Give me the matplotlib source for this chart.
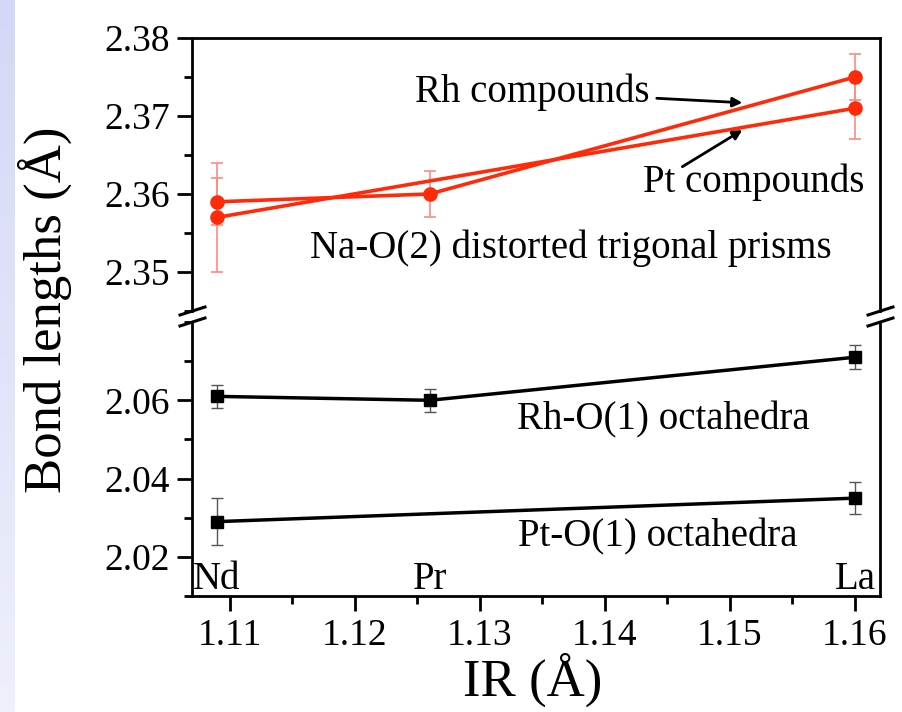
import numpy as np
import matplotlib
matplotlib.use("Agg")
import matplotlib.pyplot as plt
from matplotlib.lines import Line2D
from matplotlib.ticker import MultipleLocator, FixedLocator

plt.rcParams['font.family'] = ['Liberation Serif', 'DejaVu Serif']

# radius values (IR) and element names
ir = [1.109, 1.126, 1.16]
elements = ['Nd', 'Pr', 'La']
ir_pt = [1.109, 1.16]

# Na-O(2) bond lengths (trigonal prisms)
rh_nao = [2.359, 2.360, 2.375]
rh_nao_err = [0.003, 0.003, 0.003]
pt_nao = [2.357, 2.371]
pt_nao_err = [0.007, 0.004]

# M-O(1) bond lengths (octahedra)
rh_mo = [2.061, 2.060, 2.071]
rh_mo_err = [0.003, 0.003, 0.003]
pt_mo = [2.029, 2.035]
pt_mo_err = [0.006, 0.004]

bot_ticks = [2.02, 2.04, 2.06]

W, H = 903, 712
fig = plt.figure(figsize=(W / 100, H / 100), dpi=100)


def fx(px):
    return px / W


def fy(py):
    return 1 - py / H


# slide background strip on the left
bg = fig.add_axes([0, 0, fx(15), 1])
grad = np.linspace(0, 1, 100).reshape(-1, 1)
bg.imshow(grad, aspect='auto', cmap=matplotlib.colors.LinearSegmentedColormap.from_list(
    'bg', ['#d4d8f6', '#eef0fc']), origin='upper')
bg.axis('off')

left, right = 192, 880
top_ax = fig.add_axes([fx(left), fy(311), fx(right - left), fy(38) - fy(311)])
bot_ax = fig.add_axes([fx(left), fy(596), fx(right - left), fy(322) - fy(596)])

red = '#ff2a0a'
lw_frame = 2.0

for ax in (top_ax, bot_ax):
    ax.set_xlim(1.107, 1.162)
    for s in ax.spines.values():
        s.set_linewidth(lw_frame)
    ax.tick_params(which='both', direction='out', width=2, labelsize=27,
                   top=False, right=False, pad=5)
    ax.tick_params(which='major', length=11)
    ax.tick_params(which='minor', length=6)
    ax.xaxis.set_major_locator(MultipleLocator(0.01))
    ax.xaxis.set_minor_locator(MultipleLocator(0.005))

# top panel: Na-O(2)
top_ax.set_ylim(2.345, 2.38)
top_ax.yaxis.set_major_locator(MultipleLocator(0.01))
top_ax.yaxis.set_minor_locator(MultipleLocator(0.005))
top_ax.spines['bottom'].set_visible(False)
top_ax.tick_params(axis='x', which='both', bottom=False, labelbottom=False)

top_ax.errorbar(ir, rh_nao, yerr=rh_nao_err, fmt='none', ecolor='#ff8a80',
                elinewidth=1.2, capsize=4, capthick=1.2, zorder=2)
top_ax.errorbar(ir_pt, pt_nao, yerr=pt_nao_err, fmt='none', ecolor='#ff8a80',
                elinewidth=1.2, capsize=4, capthick=1.2, zorder=2)
top_ax.plot(ir, rh_nao, '-o', color=red, lw=2.6, ms=9.5, zorder=3)
top_ax.plot(ir_pt, pt_nao, '-o', color=red, lw=2.6, ms=9.5, zorder=3)

top_ax.annotate('Rh compounds', xy=(1.151, 2.3717), xytext=(1.1436, 2.3731),
                ha='right', va='center', fontsize=28,
                arrowprops=dict(arrowstyle='-|>', color='black', lw=2,
                                mutation_scale=14, shrinkA=3, shrinkB=0))
top_ax.annotate('', xy=(1.151, 2.3682), xytext=(1.1462, 2.3635),
                arrowprops=dict(arrowstyle='-|>', color='black', lw=2,
                                mutation_scale=14, shrinkA=0, shrinkB=0))
top_ax.text(1.1519, 2.3615, 'Pt compounds', ha='center', va='center', fontsize=28)
top_ax.text(1.1373, 2.3531, 'Na-O(2) distorted trigonal prisms', ha='center',
            va='center', fontsize=28)

# bottom panel: M-O(1)
bot_ax.set_ylim(2.01, 2.08)
bot_ax.yaxis.set_major_locator(FixedLocator(bot_ticks))
bot_ax.yaxis.set_minor_locator(MultipleLocator(0.01))
bot_ax.spines['top'].set_visible(False)

bot_ax.errorbar(ir, rh_mo, yerr=rh_mo_err, fmt='none', ecolor='#555555',
                elinewidth=1.0, capsize=4, capthick=1.0, zorder=2)
bot_ax.errorbar(ir_pt, pt_mo, yerr=pt_mo_err, fmt='none', ecolor='#555555',
                elinewidth=1.0, capsize=4, capthick=1.0, zorder=2)
bot_ax.plot(ir, rh_mo, '-s', color='black', lw=2.5, ms=8, zorder=3)
bot_ax.plot(ir_pt, pt_mo, '-s', color='black', lw=2.5, ms=8, zorder=3)

bot_ax.text(1.1447, 2.0551, 'Rh-O(1) octahedra', ha='center', va='center', fontsize=28)
bot_ax.text(1.1442, 2.0251, 'Pt-O(1) octahedra', ha='center', va='center', fontsize=28)
for x, name in zip(ir, elements):
    bot_ax.text(x, 2.0141, name, ha='center', va='center', fontsize=28)

# axis break marks
for xc in (left, right):
    for yc in (311, 322):
        fig.add_artist(Line2D([fx(xc - 12), fx(xc + 13)], [fy(yc + 4), fy(yc - 4)],
                              color='black', lw=2.2))

fig.text(fx(45), fy(310), 'Bond lengths (Å)', rotation=90, ha='center',
         va='center', fontsize=38)
fig.text(fx(533), fy(680), 'IR (Å)', ha='center', va='center', fontsize=38)

fig.savefig('out.png', dpi=100)
